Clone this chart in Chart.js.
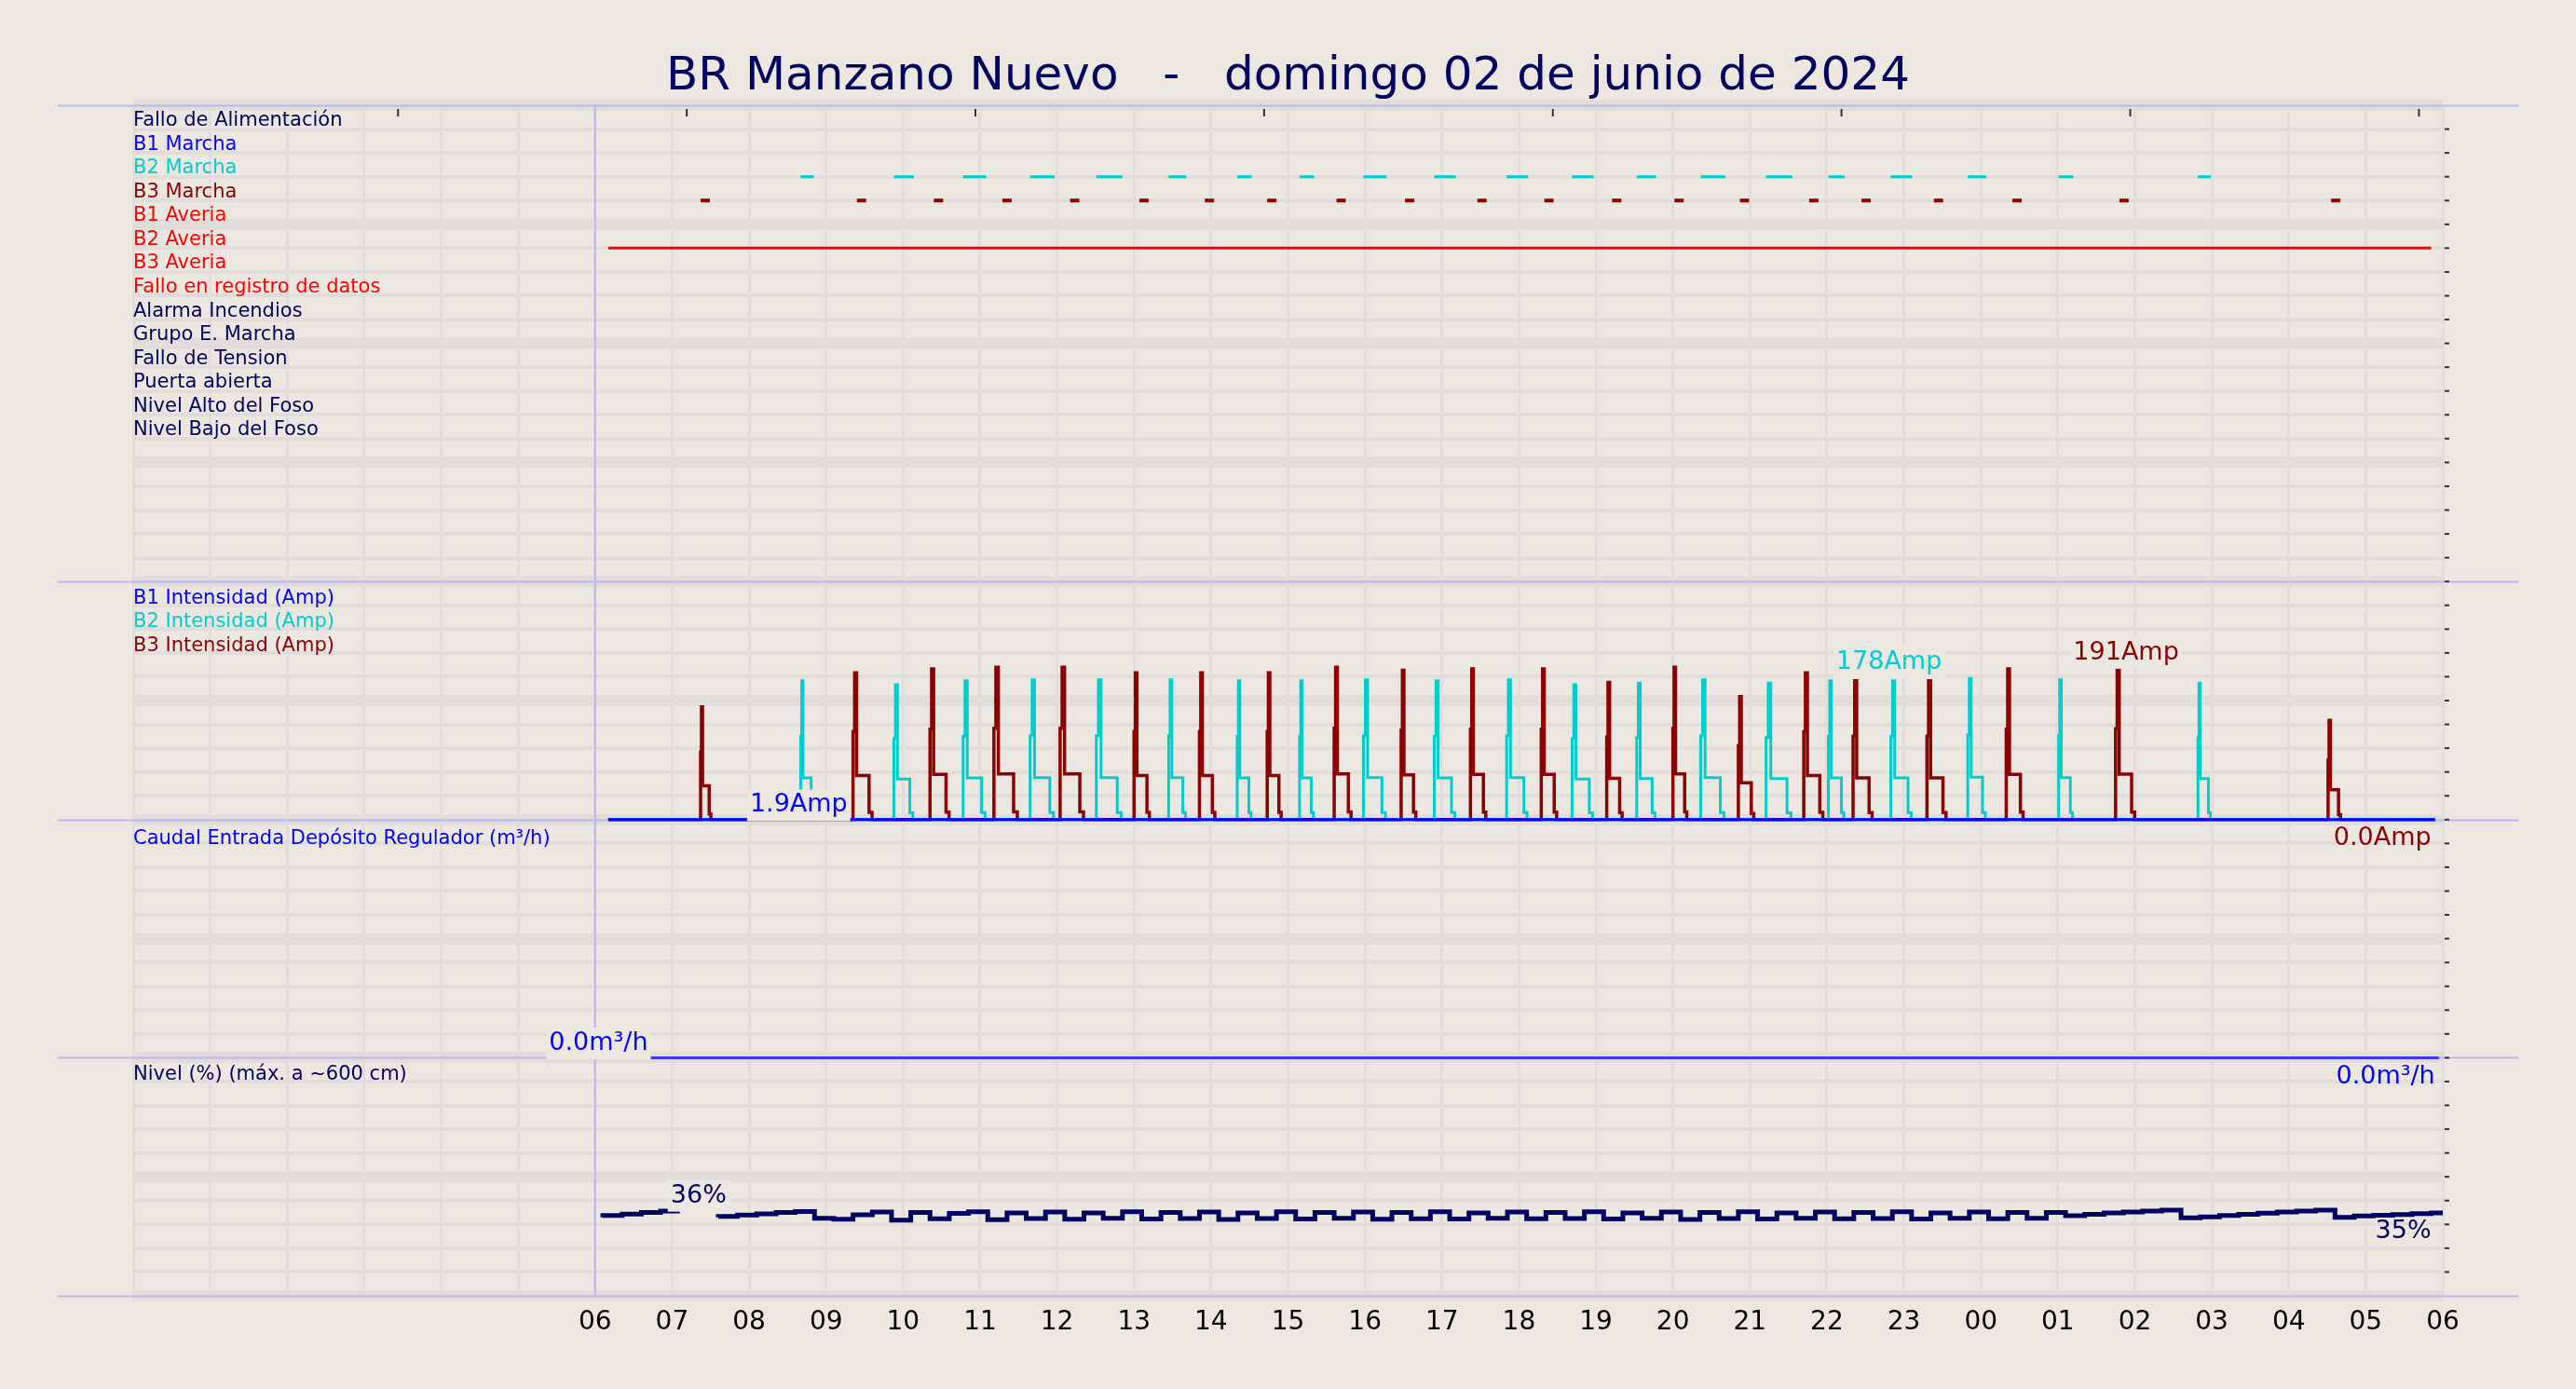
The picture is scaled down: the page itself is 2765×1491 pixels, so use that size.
<!DOCTYPE html>
<html lang="es">
<head>
<meta charset="UTF-8">
<title>BR Manzano Nuevo</title>
<script src="https://cdn.jsdelivr.net/npm/chart.js"></script>
<style>
  body { margin: 0; background: #ece7e1; }
  canvas { display: block; }
</style>
</head>
<body>
<canvas id="c" width="2765" height="1491"></canvas>
<script>
// hours since 06:00 of the day shown
const hourLabels = ['06','07','08','09','10','11','12','13','14','15','16','17','18','19','20','21','22','23','00','01','02','03','04','05','06'];

const signalNames = ['Fallo de Alimentación','B1 Marcha','B2 Marcha','B3 Marcha','B1 Averia','B2 Averia','B3 Averia',
  'Fallo en registro de datos','Alarma Incendios','Grupo E. Marcha','Fallo de Tension','Puerta abierta','Nivel Alto del Foso','Nivel Bajo del Foso'];
const signalColors = ['#000060','#0000ff','#00cccc','#8b0000','#ff0000','#ff0000','#ff0000','#ff0000',
  '#000060','#000060','#000060','#000060','#000060','#000060'];

// B2 pump runs (start h, end h, peak Amp)
const b2Start = [2.67,3.88,4.78,5.65,6.51,7.45,8.34,9.15,9.98,10.90,11.84,12.69,13.53,14.36,15.21,16.02,16.83,17.83,19.01,20.82];
const b2End   = [2.84,4.14,5.08,5.97,6.85,7.68,8.53,9.34,10.28,11.18,12.12,12.97,13.78,14.68,15.55,16.23,17.11,18.07,19.20,20.99];
const b2Peak  = [175,170,175,176,176,176,175,175,176,175,176,170,172,176,172,175,175,178,176,172];

// B3 pump runs
const b3Start = [1.37,3.35,4.35,5.18,6.04,7.00,7.85,8.73,9.60,10.47,11.37,12.29,13.14,14.00,14.85,15.70,16.34,17.30,18.33,19.75,22.51];
const b3End   = [1.51,3.61,4.61,5.50,6.36,7.21,8.06,8.92,9.83,10.67,11.58,12.50,13.35,14.19,15.06,15.96,16.60,17.56,18.56,20.01,22.68];
const b3Peak  = [142,185,190,192,192,185,185,185,192,188,190,190,173,192,155,185,175,175,190,191,125];

// B3 Marcha marks (centre h)
const b3Marks = [1.43,3.46,4.46,5.35,6.23,7.13,7.98,8.79,9.69,10.58,11.52,12.39,13.27,14.08,14.93,15.83,16.51,17.45,18.47,19.86,22.61];
const b2AveriaSpan = [0.17, 23.85];

// Nivel (%) every 15 minutes from 06:00
const levelValues = [33.0,33.7,34.3,35.0,35.6,null,33.0,33.4,33.9,34.4,35.0,35.4,
  32.6,32.2,34.0,35.2,31.8,35.0,32.4,34.6,35.3,32.0,34.8,32.5,35.2,32.2,34.8,32.6,
  35.3,32.3,35.0,32.5,35.2,32.1,34.8,32.5,35.3,32.3,35.0,32.6,35.2,32.2,35.0,32.4,
  35.3,32.3,34.8,32.6,35.2,32.4,35.0,32.5,35.3,32.3,34.8,32.6,35.2,32.1,35.0,32.5,
  35.3,32.3,34.8,32.6,35.2,32.4,35.0,32.5,35.3,32.3,34.8,32.6,35.2,32.4,35.0,32.6,
  35.0,33.6,34.2,34.8,35.2,35.6,36.0,32.8,33.2,33.7,34.2,34.7,35.2,35.6,36.0,33.0,
  33.5,33.8,34.1,34.5,34.8];
const caudalValues = [0.0, 0.0];

function pulsePoints(starts, ends, peaks) {
  const pts = [{x: 0.17, y: 0}];
  starts.forEach((s, i) => {
    const e = ends[i], w = e - s, p = peaks[i];
    pts.push({x: s, y: 0});
    pts.push({x: s, y: p * 0.2});
    pts.push({x: s + 0.08 * w, y: p * 0.6});
    pts.push({x: s + 0.18 * w, y: p});
    pts.push({x: s + 0.8 * w, y: p * 0.3});
    pts.push({x: s + 0.95 * w, y: p * 0.05});
    pts.push({x: e, y: 0});
  });
  pts.push({x: 23.9, y: 0});
  return pts;
}
function marks(starts, ends, row) {
  const pts = [];
  starts.forEach((s, i) => { pts.push({x: s, y: row}, {x: ends[i], y: row}, {x: ends[i], y: null}); });
  return pts;
}

// panel geometry in grid rows (50 rows total, digital panel = 20 rows)
const ROWS = 50;
const ampPerRow = 30, pctPerRow = 10;

const decor = {
  id: 'decor',
  beforeDatasetsDraw(chart) {
    const {ctx, chartArea: a, scales} = chart;
    const yr = scales.yD, xs = scales.x;
    ctx.save();
    ctx.strokeStyle = '#b8b8f0'; ctx.lineWidth = 2;
    [0, 20, 30, 40, 50].forEach(r => {
      const y = Math.round(yr.getPixelForValue(r)) + 0.5;
      ctx.beginPath(); ctx.moveTo(62, y); ctx.lineTo(2703, y); ctx.stroke();
    });
    const x0 = xs.getPixelForValue(0);
    ctx.beginPath(); ctx.moveTo(x0, a.top); ctx.lineTo(x0, a.bottom); ctx.stroke();
    // right side tick dashes
    ctx.strokeStyle = '#333'; ctx.lineWidth = 2;
    for (let r = 1; r < ROWS; r++) {
      const y = yr.getPixelForValue(r);
      ctx.beginPath(); ctx.moveTo(a.right + 2, y); ctx.lineTo(a.right + 7, y); ctx.stroke();
    }
    for (let h = -2.56; h < 24; h += 3.75) {
      const x = xs.getPixelForValue(h);
      ctx.beginPath(); ctx.moveTo(x, a.top + 4); ctx.lineTo(x, a.top + 12); ctx.stroke();
    }
    ctx.restore();
  },
  afterDatasetsDraw(chart) {
    const {ctx, chartArea: a, scales} = chart;
    const yr = scales.yD, xs = scales.x;
    ctx.save();
    ctx.textBaseline = 'middle';
    ctx.font = '21px "DejaVu Sans"';
    signalNames.forEach((n, i) => {
      ctx.fillStyle = signalColors[i];
      ctx.fillText(n, a.left, yr.getPixelForValue(i + 0.65));
    });
    const panelText = [
      ['B1 Intensidad (Amp)', '#0000ff', 20.7], ['B2 Intensidad (Amp)', '#00cccc', 21.7], ['B3 Intensidad (Amp)', '#8b0000', 22.7],
      ['Caudal Entrada Depósito Regulador (m³/h)', '#0000ff', 30.8], ['Nivel (%) (máx. a ~600 cm)', '#000060', 40.7]
    ];
    panelText.forEach(([t, c, r]) => { ctx.fillStyle = c; ctx.fillText(t, a.left, yr.getPixelForValue(r)); });

    ctx.font = '27px "DejaVu Sans"';
    const tag = (t, c, h, r, align, bg) => {
      ctx.textAlign = align;
      const x = xs.getPixelForValue(h), y = yr.getPixelForValue(r);
      if (bg) {
        const w = ctx.measureText(t).width;
        const left = align === 'right' ? x - w : x;
        ctx.fillStyle = '#ece7e1';
        ctx.fillRect(left - 3, y - 17, w + 6, 34);
      }
      ctx.fillStyle = c; ctx.fillText(t, x, y);
    };
    tag('1.9Amp', '#0000ff', 2.01, 29.4, 'left', true);
    tag('178Amp', '#00cccc', 16.12, 23.4, 'left', true);
    tag('191Amp', '#8b0000', 19.2, 23.0, 'left', true);
    tag('0.0Amp', '#8b0000', 23.85, 30.8, 'right', false);
    tag('0.0m³/h', '#0000ff', -0.6, 39.4, 'left', true);
    tag('0.0m³/h', '#0000ff', 23.9, 40.8, 'right', false);
    tag('36%', '#000060', 0.98, 45.8, 'left', true);
    tag('35%', '#000060', 23.85, 47.3, 'right', false);
    ctx.restore();
  }
};

const chart = new Chart(document.getElementById('c'), {
  type: 'line',
  data: {
    datasets: [
      {label: 'B2 Marcha', yAxisID: 'yD', data: marks(b2Start, b2End, 3), borderColor: '#00cccc', borderWidth: 3, spanGaps: false},
      {label: 'B3 Marcha', yAxisID: 'yD', data: marks(b3Marks.map(m => m - 0.06), b3Marks.map(m => m + 0.06), 4), borderColor: '#8b0000', borderWidth: 4, spanGaps: false},
      {label: 'B2 Averia', yAxisID: 'yD', data: [{x: b2AveriaSpan[0], y: 6}, {x: b2AveriaSpan[1], y: 6}], borderColor: '#ff0000', borderWidth: 3},
      {label: 'B1 Intensidad', yAxisID: 'yI', data: [{x: 0.17, y: 0}, {x: 23.9, y: 0}], borderColor: '#0000ff', borderWidth: 3},
      {label: 'B2 Intensidad', yAxisID: 'yI', data: pulsePoints(b2Start, b2End, b2Peak), borderColor: '#00cccc', borderWidth: 3, stepped: 'after'},
      {label: 'B3 Intensidad', yAxisID: 'yI', data: pulsePoints(b3Start, b3End, b3Peak), borderColor: '#8b0000', borderWidth: 3.5, stepped: 'after'},
      {label: 'Caudal', yAxisID: 'yC', data: [{x: 0.1, y: caudalValues[0]}, {x: 23.95, y: caudalValues[1]}], borderColor: '#3b3bff', borderWidth: 3},
      {label: 'Nivel', yAxisID: 'yL', data: levelValues.map((v, i) => ({x: i * 0.25 + 0.1, y: v})), borderColor: '#000060', borderWidth: 5, stepped: 'after', spanGaps: false}
    ]
  },
  options: {
    responsive: false,
    devicePixelRatio: 1,
    animation: false,
    elements: {point: {radius: 0}, line: {tension: 0}},
    layout: {padding: {left: 143, right: 143, top: 0, bottom: 0}},
    plugins: {
      legend: {display: false},
      tooltip: {enabled: false},
      title: {display: true, text: 'BR Manzano Nuevo   -   domingo 02 de junio de 2024', color: '#000060',
        font: {family: 'DejaVu Sans', size: 50, weight: 'normal'}, padding: {top: 53, bottom: 0}}
    },
    scales: {
      x: {
        type: 'linear', min: -6, max: 24,
        afterFit: s => { s.height = 100; },
        ticks: {stepSize: 1, autoSkip: false, color: '#000', font: {family: 'DejaVu Sans', size: 28}, padding: 12,
          callback: v => (v >= 0 && Number.isInteger(v)) ? hourLabels[v] : ''},
        grid: {color: '#e2dddb', lineWidth: 3, drawTicks: false},
        border: {display: false}
      },
      yD: {
        reverse: true, min: 0, max: ROWS, position: 'left',
        afterFit: s => { s.width = 0; },
        ticks: {display: false, stepSize: 1},
        grid: {color: '#e2dddb', lineWidth: ctx => (ctx.tick.value % 5 === 0 ? 12 : 4), drawTicks: false},
        border: {display: false}
      },
      yI: {min: -ampPerRow * 20, max: ampPerRow * 30, display: false},
      yC: {min: -10, max: 40, display: false},
      yL: {min: 0, max: pctPerRow * ROWS, display: false}
    }
  },
  plugins: [decor]
});
</script>
</body>
</html>
